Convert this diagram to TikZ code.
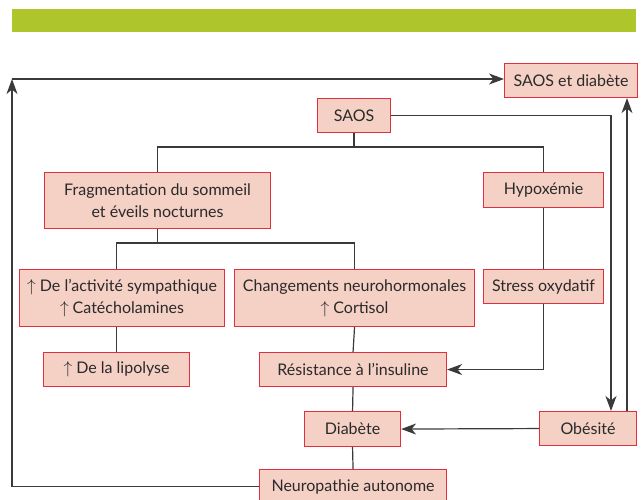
\documentclass[tikz,border=0pt]{standalone}
\usepackage{fontspec}
\setmainfont{Lato}
\usetikzlibrary{arrows.meta}
\definecolor{barGreen}{HTML}{AEC62B}
\definecolor{boxFill}{HTML}{F5D0C4}
\definecolor{boxLine}{HTML}{E0303F}
\definecolor{lineGray}{HTML}{3A3A3A}
\definecolor{txtGray}{HTML}{2A2A2A}
\tikzset{
  box/.style={draw=boxLine, fill=boxFill, line width=1.1pt, anchor=north west,
    inner sep=0pt, align=center, text=txtGray, font=\fontsize{16}{21.5}\selectfont},
  conn/.style={draw=lineGray, line width=1.2pt},
  arr/.style={conn, -{Stealth[length=15pt,width=11pt,inset=4.5pt]}}
}
\begin{document}
\begin{tikzpicture}[x=1pt,y=-1pt]
\useasboundingbox (0,0) rectangle (641,499);
\fill[barGreen] (12,9) rectangle (636,32);
% nodes
\node[box, minimum width=133pt, minimum height=34pt] (sd) at (504,63) {SAOS et diabète};
\node[box, minimum width=73pt, minimum height=34pt] (saos) at (317,98) {SAOS};
\node[box, minimum width=226pt, minimum height=56pt] (frag) at (44,172) {Fragmentation du sommeil\\et éveils nocturnes};
\node[box, minimum width=120pt, minimum height=35pt] (hypo) at (483,172) {Hypoxémie};
\node[box, minimum width=205pt, minimum height=57pt] (symp) at (19,269) {$\uparrow$ De l’activité sympathique\\$\uparrow$ Catécholamines};
\node[box, minimum width=240pt, minimum height=57pt] (chg) at (234,269) {Changements neurohormonales\\$\uparrow$ Cortisol};
\node[box, minimum width=120pt, minimum height=34pt] (stress) at (483,269) {Stress oxydatif};
\node[box, minimum width=146pt, minimum height=34pt] (lip) at (43,352) {$\uparrow$ De la lipolyse};
\node[box, minimum width=187pt, minimum height=34pt] (res) at (259,352) {Résistance à l’insuline};
\node[box, minimum width=96pt, minimum height=35pt] (diab) at (304,411) {Diabète};
\node[box, minimum width=97pt, minimum height=34pt] (obes) at (539,411) {Obésité};
\node[box, minimum width=187pt, minimum height=34pt] (neuro) at (259,469) {Neuropathie autonome};
% helper coordinates
\coordinate (tl) at (12,79);
\coordinate (split1) at (0,147);
\coordinate (split2) at (0,243);
\coordinate (rx) at (611,0);
\coordinate (rx2) at (627,0);
% connectors
\draw[arr] (tl) -- (tl -| sd.west);
\draw[arr] (neuro.west) -- (neuro.west -| tl) -- (tl);
\draw[arr] (saos.east) -- (saos.east -| rx) -- (obes.north -| rx);
\draw[arr] (obes.north -| rx2) -- (sd.south -| rx2);
\draw[conn] (saos.south) -- (saos.south |- split1);
\draw[conn] (frag.north) |- (split1 -| hypo.north) -- (hypo.north);
\draw[conn] (frag.south) -- (frag.south |- split2);
\draw[conn] (symp.north -| lip.north) |- (split2 -| chg.north) -- (chg.north);
\draw[conn] (symp.south -| lip.north) -- (lip.north);
\draw[conn] (hypo.south) -- (stress.north);
\draw[arr] (stress.south) |- (res.east);
\draw[conn] (chg.south) -- (res.north);
\draw[conn] (res.south) -- (diab.north);
\draw[arr] (obes.west) -- (diab.east);
\draw[conn] (diab.south) -- (neuro.north);
\end{tikzpicture}
\end{document}
